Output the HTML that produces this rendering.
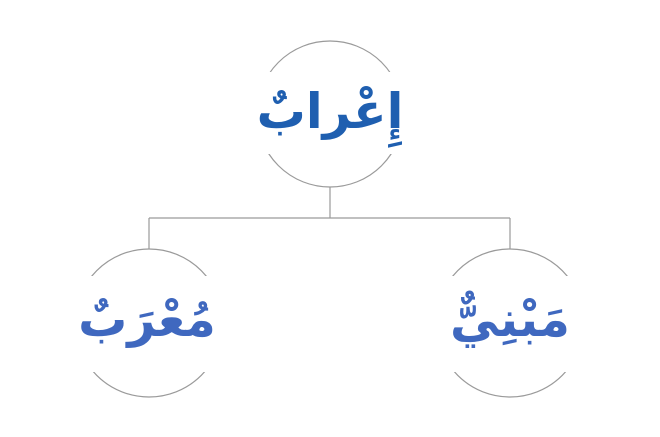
<!DOCTYPE html>
<html><head><meta charset="utf-8"><style>
html,body{margin:0;padding:0;background:#fff;}
svg{display:block}
</style></head><body>
<svg width="660" height="437" viewBox="0 0 660 437" xmlns="http://www.w3.org/2000/svg">
<g fill="none" stroke="#9a9a9a" stroke-width="1.2">
<circle cx="330" cy="114" r="73"/>
<circle cx="149" cy="323" r="74"/>
<circle cx="510" cy="323" r="74"/>
<path d="M330 187 V218 M149 218 H510 M149 218 V249 M510 218 V249"/>
</g>
<g fill="#fff">
<rect x="250" y="72" width="160" height="82"/>
<rect x="70" y="276" width="160" height="96"/>
<rect x="431" y="276" width="160" height="96"/>
</g>
<g font-family="'DejaVu Sans','Noto Sans CJK SC',sans-serif" font-size="49" font-weight="bold" text-anchor="middle" direction="rtl">
<text x="330" y="128" fill="#1f5fb0">إِعْرابٌ</text>
<text x="147" y="336" fill="#3f68bf">مُعْرَبٌ</text>
<text x="510" y="336" fill="#3f68bf">مَبْنِيٌّ</text>
</g>
</svg>
</body></html>
